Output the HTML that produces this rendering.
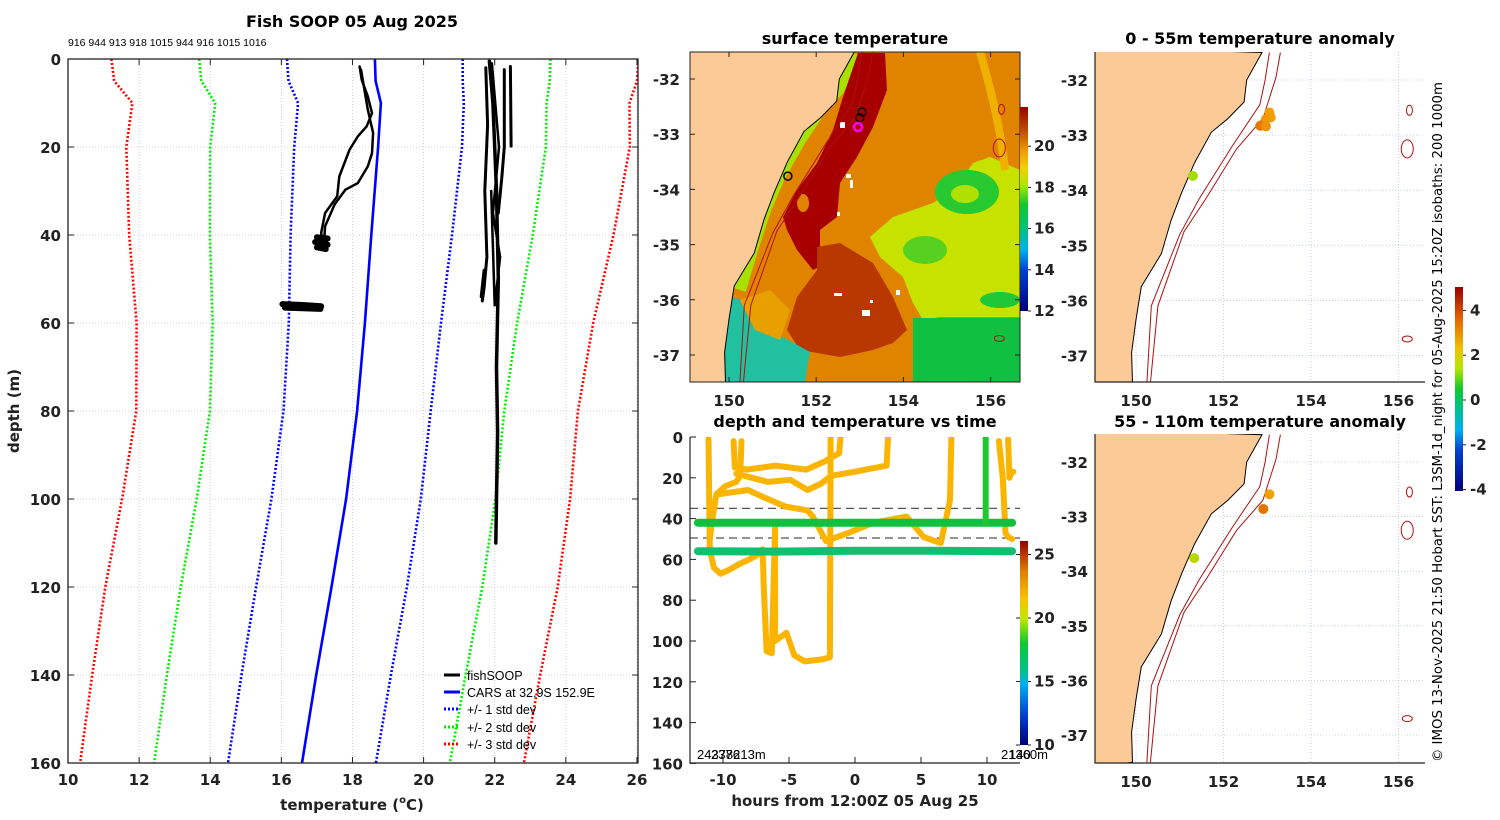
<!DOCTYPE html>
<html><head><meta charset="utf-8"><style>
body{margin:0;background:#fff;}
svg{display:block;font-family:"DejaVu Sans","Liberation Sans",sans-serif;}
.tk{font-weight:bold;font-size:15px;fill:#222;}
.ti{font-weight:bold;font-size:16px;fill:#000;}
</style></head><body>
<svg id="fig" width="1500" height="820" viewBox="0 0 1500 820" xmlns="http://www.w3.org/2000/svg">
<defs>
<linearGradient id="gSST" x1="0" y1="1" x2="0" y2="0">
<stop offset="0" stop-color="#00007a"/><stop offset="0.2" stop-color="#0040d0"/><stop offset="0.3" stop-color="#00b0f0"/><stop offset="0.4" stop-color="#00c080"/><stop offset="0.52" stop-color="#10c830"/><stop offset="0.62" stop-color="#b0e800"/><stop offset="0.7" stop-color="#f0d000"/><stop offset="0.78" stop-color="#f0a000"/><stop offset="0.88" stop-color="#c05000"/><stop offset="1" stop-color="#9a0000"/></linearGradient>
<linearGradient id="gTime" x1="0" y1="1" x2="0" y2="0">
<stop offset="0" stop-color="#00007a"/><stop offset="0.15" stop-color="#0040d0"/><stop offset="0.3" stop-color="#00b0f0"/><stop offset="0.36" stop-color="#00c090"/><stop offset="0.5" stop-color="#10c830"/><stop offset="0.62" stop-color="#c0e800"/><stop offset="0.72" stop-color="#fbc000"/><stop offset="0.85" stop-color="#e08000"/><stop offset="1" stop-color="#9a0000"/></linearGradient>
<linearGradient id="gAnom" x1="0" y1="1" x2="0" y2="0">
<stop offset="0" stop-color="#00007a"/><stop offset="0.2" stop-color="#0040d0"/><stop offset="0.3" stop-color="#00b0f0"/><stop offset="0.4" stop-color="#00c090"/><stop offset="0.5" stop-color="#10c830"/><stop offset="0.6" stop-color="#b0e800"/><stop offset="0.7" stop-color="#f0c000"/><stop offset="0.85" stop-color="#e06000"/><stop offset="1" stop-color="#9a0000"/></linearGradient>
<clipPath id="cSST"><rect x="690" y="52" width="330" height="330"/></clipPath>
<clipPath id="cA1"><rect x="1095" y="52" width="330" height="330"/></clipPath>
<clipPath id="cA2"><rect x="1095" y="434" width="330" height="329"/></clipPath>
<clipPath id="cLeft"><rect x="68" y="59" width="570" height="704"/></clipPath>
<clipPath id="cTime"><rect x="690" y="437" width="330" height="326"/></clipPath>
</defs>

<text class="ti" x="352" y="27" text-anchor="middle">Fish SOOP 05 Aug 2025</text>
<text x="68" y="46" font-size="10.5" font-family="Liberation Sans, sans-serif">916 944 913 918 1015 944 916 1015 1016</text>
<g id="leftGrid"></g>
<g id="leftSeries" clip-path="url(#cLeft)"></g>
<rect x="68" y="59" width="570" height="704" fill="none" stroke="#222" stroke-width="1.3"/>
<g id="leftTicks"></g>
<text class="tk" transform="translate(19,411) rotate(-90)" text-anchor="middle" font-size="16">depth (m)</text>
<text class="tk" x="352" y="810" text-anchor="middle" font-size="16">temperature (<tspan font-size="10" dy="-7">o</tspan><tspan dy="7">C)</tspan></text>
<g font-family="Liberation Sans, sans-serif" font-size="12.5">
<line x1="444" y1="675" x2="460" y2="675" stroke="#000" stroke-width="3"/>
<text x="467" y="680">fishSOOP</text>
<line x1="444" y1="692" x2="460" y2="692" stroke="#0000ff" stroke-width="3"/>
<text x="467" y="697">CARS at 32.9S 152.9E</text>
<line x1="444" y1="709" x2="460" y2="709" stroke="#0000ff" stroke-width="3" stroke-dasharray="2,2"/>
<text x="467" y="714">+/- 1 std dev</text>
<line x1="444" y1="727" x2="460" y2="727" stroke="#00ee00" stroke-width="3" stroke-dasharray="2,2"/>
<text x="467" y="732">+/- 2 std dev</text>
<line x1="444" y1="744" x2="460" y2="744" stroke="#ff0000" stroke-width="3" stroke-dasharray="2,2"/>
<text x="467" y="749">+/- 3 std dev</text>
</g>

<text class="ti" x="855" y="44" text-anchor="middle">surface temperature</text>
<g clip-path="url(#cSST)">
<rect x="690" y="52" width="330" height="330" fill="#e08400"/>
<polygon points="870,237 893,217 933,203 957,187 973,163 990,157 1020,170 1020,317 940,317 923,320 913,303 903,277 880,257" fill="#c8e200"/>
<ellipse cx="967" cy="192" rx="32" ry="22" fill="#28c830"/>
<ellipse cx="965" cy="194" rx="14" ry="9" fill="#b0e000"/>
<ellipse cx="925" cy="250" rx="22" ry="14" fill="#58d020"/>
<rect x="913" y="318" width="107" height="64" fill="#10c040"/>
<ellipse cx="1000" cy="300" rx="20" ry="8" fill="#20c838"/>
<path d="M980,52 Q1000,120 1005,170" stroke="#f0b000" stroke-width="8" fill="none"/>
<polyline points="858,55 838,90 820,110 800,140 780,175 765,210 752,250 740,290" fill="none" stroke="#a8e000" stroke-width="12"/>
<polygon points="858,53 885,53 887,90 873,127 857,157 840,183 837,217 820,230 820,247 827,263 813,270 797,250 787,230 783,217 797,190 817,163 833,130 843,97" fill="#a80000"/>
<polygon points="817,247 840,243 873,263 893,297 907,330 893,343 873,350 840,357 800,350 787,330 797,297 817,270" fill="#b83800"/>
<ellipse cx="803" cy="203" rx="6" ry="9" fill="#e08400"/>
<polygon points="690,290 745,300 770,330 810,352 805,382 690,382" fill="#20c0a0"/>
<polygon points="740,300 770,290 790,310 780,340 755,330" fill="#e8a000"/>
<g fill="#fff">
<rect x="840" y="122" width="5" height="6"/><rect x="846" y="174" width="5" height="4"/><rect x="850" y="180" width="3" height="8"/><rect x="837" y="212" width="3" height="4"/><rect x="862" y="310" width="8" height="6"/><rect x="834" y="293" width="8" height="3"/><rect x="896" y="290" width="4" height="5"/><rect x="870" y="300" width="3" height="3"/></g>
<g id="sstLayer"></g>
</g>
<rect x="690" y="52" width="330" height="330" fill="none" stroke="#222" stroke-width="1"/>
<rect x="1020" y="107" width="8" height="204" fill="url(#gSST)"/>

<text class="ti" x="855" y="427" text-anchor="middle">depth and temperature vs time</text>
<g id="timeSeries" clip-path="url(#cTime)"></g>
<path d="M690,437 V763 H1020" fill="none" stroke="#222" stroke-width="1.2"/>
<text x="697" y="759" font-size="13" font-family="Liberation Sans, sans-serif">24378213m</text>
<text x="711" y="759" font-size="13" font-family="Liberation Sans, sans-serif">2376</text>
<text x="1001" y="759" font-size="13" font-family="Liberation Sans, sans-serif">21360m</text>
<text x="1009" y="759" font-size="13" font-family="Liberation Sans, sans-serif">140</text>
<rect x="1020" y="541" width="8" height="204" fill="url(#gTime)"/>
<text class="tk" x="855" y="806" text-anchor="middle" font-size="16">hours from 12:00Z 05 Aug 25</text>

<text class="ti" x="1260" y="44" text-anchor="middle">0 - 55m temperature anomaly</text>
<text class="ti" x="1260" y="427" text-anchor="middle">55 - 110m temperature anomaly</text>
<g id="anom1" clip-path="url(#cA1)"></g>
<g id="anom2" clip-path="url(#cA2)"></g>
<path d="M1095,52 V382 H1425" fill="none" stroke="#222" stroke-width="1.2"/>
<path d="M1095,434 V763 H1425" fill="none" stroke="#222" stroke-width="1.2"/>
<rect x="1455" y="287" width="8" height="204" fill="url(#gAnom)"/>
<text transform="translate(1442,762) rotate(-90)" font-size="13" font-family="DejaVu Sans, sans-serif" textLength="680" lengthAdjust="spacingAndGlyphs">© IMOS 13-Nov-2025 21:50 Hobart SST: L3SM-1d_night for 05-Aug-2025 15:20Z isobaths: 200  1000m</text>
<g id="ticksAll"></g>
</svg>
<script>
const depthsC = [0,5,10,20,40,60,80,100,120,140,160];
const carsMean = [18.63,18.65,18.8,18.72,18.53,18.35,18.13,17.82,17.41,16.98,16.58];
const carsStd = [2.47,2.45,2.33,2.36,2.27,2.14,2.07,2.1,2.12,2.1,2.08];
const fish1T = [18.2,18.26,18.43,18.55,18.4,18.15,17.92,17.63,17.57,17.23,17.12,17.15];
const fish1D = [1.7,4.7,8.5,12.3,15.3,17.6,20.6,26.7,31.2,35,39.5,41.8];
const fish2T = [18.24,18.43,18.58,18.55,18.43,18.15,17.8,17.5,17.23,17.2];
const fish2D = [2.4,11.5,16.8,21.4,24.4,28.2,29.7,33,38,41.8];
const fish3T = [17.0,17.3,16.95,17.3,17.0,17.25,17.05];
const fish3D = [40.5,40.8,41.6,42.2,42.8,43.2,41.5];
const fish4T = [16.03,16.6,17.12,16.1,17.1,16.2];
const fish4D = [55.7,55.9,56.2,56.5,56.8,56.3];
const fish5T = [21.85,21.95,22.0,22.05,22.1,22.05,22.08,22.05,22.03];
const fish5D = [0.5,10,20,30,50,70,85,100,110];
const fish6T = [21.75,21.8,21.72,21.78,21.7,21.65,21.7,21.62];
const fish6D = [2,15,30,45,52,55,48,54];
const fish7T = [22.27,22.27,22.2,22.1];
const fish7D = [2.4,20,27,35];
const fish8T = [22.44,22.46];
const fish8D = [1.7,19.8];
const fish9T = [21.92,22.12,21.95,22.15,22.0,21.9];
const fish9D = [1,20,35,45,56,30];
const tempTicks = [10,12,14,16,18,20,22,24,26];
const depthTicks = [0,20,40,60,80,100,120,140,160];
const trA_h = [-11.1,-11.0,-10.7,-10.2,-9.5,-8.7,-8.0,-7.2,-6.9];
const trA_d = [1,55,64,67,65,62,60,57,56];
const trB_h = [-11.0,-10.8,-10.5,-9.8,-9.0,-8.7,-8.6];
const trB_d = [50,40,28,24,22,19,2];
const trC_h = [-9.2,-9.1,-8.2,-6,-3.7,-2.3,-1.8,-1.2,-1.1];
const trC_d = [2,15,16,14,16,12,10,8,0];
const trD_h = [-9.0,-6.6,-4.9,-3.6,-2.6,-1.8,0,2.4,2.5];
const trD_d = [18,22,21,26,23,19,17,14,0];
const trE_h = [-10.3,-8.1,-7.1,-5.3,-3.6,-3.2,-2.2,-0.5,1.4,3.9,5.2,6.5,7.2,7.3];
const trE_d = [28,26,29,34,36,39,51,47,42,39,49,52,31,0];
const trF_h = [-7.0,-6.9,-6.7,-6.3,-6.05,-6.05,-5.2,-4.6,-3.8,-2.5,-1.9,-1.85];
const trF_d = [55,75,105,106,44,100,96,107,110,109,108,0];
const trG_h = [10.9,11.2,11.4,11.6,11.9];
const trG_d = [2,20,47,49,50];
const trH_h = [11.6,11.7,11.9,12.0];
const trH_d = [1,20,17,17];
const band1_h = [-11.9,-6,0,6,11.9];
const band1_d = [42,42,42,42,42];
const band2_h = [-11.9,-6,0,6,11.9];
const band2_d = [56,56.2,55.8,55.8,56];
const vert_h = [9.9,9.9];
const vert_d = [0,42];
const dashDepths = [35,49.5];
const hourTicks = [-10,-5,0,5,10];
const timeDepthTicks = [0,20,40,60,80,100,120,140,160];
const timeCbTicks = [10,15,20,25];
const coastLon = [152.88,152.53,152.47,152.1,151.72,151.34,151.04,150.8,150.58,150.12,150.0,149.9,149.92];
const coastLat = [-31.5,-32.0,-32.4,-32.7,-32.95,-33.5,-34.05,-34.55,-35.15,-35.75,-36.35,-36.95,-37.5];
const iso200Lon = [153.05,152.95,152.83,152.2,151.45,151.0,150.35,150.25];
const iso200Lat = [-31.5,-32.0,-32.45,-33.2,-34.15,-34.8,-36.1,-37.5];
const iso1000Lon = [153.3,153.2,152.9,152.3,151.6,151.1,150.5,150.33];
const iso1000Lat = [-31.5,-31.95,-32.7,-33.25,-34.15,-34.75,-36.1,-37.5];
const a1Lon = [151.3,153.05,153.08,152.97,152.84,152.97];
const a1Lat = [-33.74,-32.59,-32.68,-32.71,-32.83,-32.84];
const a1Val = [1.3,3.0,3.0,3.1,3.6,3.2];
const a2Lon = [151.33,153.05,152.91];
const a2Lat = [-33.76,-32.59,-32.86];
const a2Val = [1.5,3.0,3.7];
const lonTicks = [150,152,154,156];
const latTicks = [-32,-33,-34,-35,-36,-37];
const sstCbTicks = [12,14,16,18,20];
const anomCbTicks = [-4,-2,0,2,4];

const NS='http://www.w3.org/2000/svg';
function mk(parent, tag, attrs){const e=document.createElementNS(NS,tag);for(const k in attrs)e.setAttribute(k,attrs[k]);parent.appendChild(e);return e;}
const $=id=>document.getElementById(id);
const PX=t=>68+(t-10)*35.56, PY=d=>59+d*4.4;
const TX=h=>855+h*13.2, TY=d=>437+d*2.04;
const SX=lon=>729+(lon-150)*43.6, SY=lat=>79+(-32-lat)*55.2;
const AX=lon=>1136+(lon-150)*43.75, AY1=lat=>80+(-32-lat)*55.1, AY2=lat=>462+(-32-lat)*54.6;
function pts(xs,ys,fx,fy){return xs.map((v,i)=>fx(v).toFixed(1)+','+fy(ys[i]).toFixed(1)).join(' ');}

const lg=$('leftGrid');
tempTicks.forEach(t=>{const l=mk(lg,'line',{x1:PX(t),x2:PX(t),y1:59,y2:763,stroke:'#b8c4e8','stroke-width':0.8,'stroke-dasharray':'1,2'});

});
depthTicks.forEach(d=>{const l=mk(lg,'line',{x1:68,x2:638,y1:PY(d),y2:PY(d),stroke:'#c8c0c0','stroke-width':0.8,'stroke-dasharray':'1,2'});

});
const ls=$('leftSeries');
[[3,'#ff0000'],[2,'#00ee00'],[1,'#0000ff']].forEach(([k,c])=>{[-1,1].forEach(s=>{
 const p=mk(ls,'polyline',{points:pts(depthsC.map((d,i)=>carsMean[i]+s*k*carsStd[i]),depthsC,PX,PY),fill:'none',stroke:c,'stroke-width':2.6,'stroke-dasharray':'2,2'});
 
 });});
const cm=mk(ls,'polyline',{points:pts(carsMean,depthsC,PX,PY),fill:'none',stroke:'#0000ff','stroke-width':2.6});


[[fish1T,fish1D,2.5],[fish2T,fish2D,2.5],[fish3T,fish3D,6],[fish4T,fish4D,6],[fish5T,fish5D,3.5],[fish6T,fish6D,3],[fish7T,fish7D,3],[fish8T,fish8D,3],[fish9T,fish9D,2.5]].forEach((f,i)=>{
 const p=mk(ls,'polyline',{points:pts(f[0],f[1],PX,PY),fill:'none',stroke:'#000','stroke-width':f[2],'stroke-linejoin':'round','stroke-linecap':'round'});
 
 });
const lt=$('leftTicks');
tempTicks.forEach(t=>{const x=PX(t);
 const a=mk(lt,'path',{d:`M${x},763v-6M${x},59v6`,stroke:'#222','stroke-width':1});
 
 
 const tx=mk(lt,'text',{x:x,y:785,'text-anchor':'middle',class:'tk'});tx.textContent=t;
 
 });
depthTicks.forEach(d=>{const y=PY(d);
 const a=mk(lt,'path',{d:`M68,${y}h6M638,${y}h-6`,stroke:'#222','stroke-width':1});
 
 
 const tx=mk(lt,'text',{x:61,y:y+6,'text-anchor':'end',class:'tk'});tx.textContent=d;
 
 });

const ts=$('timeSeries');
dashDepths.forEach(d=>{const l=mk(ts,'line',{x1:690,x2:1020,y1:TY(d),y2:TY(d),stroke:'#555','stroke-width':1.2,'stroke-dasharray':'8,5'});
 
 });
[[trA_h,trA_d],[trB_h,trB_d],[trC_h,trC_d],[trD_h,trD_d],[trE_h,trE_d],[trF_h,trF_d],[trG_h,trG_d],[trH_h,trH_d]].forEach((t,i)=>{
 const p=mk(ts,'polyline',{points:pts(t[0],t[1],TX,TY),fill:'none',stroke:'#fbb400','stroke-width':6,'stroke-linejoin':'round','stroke-linecap':'round'});
 
 });
const b1=mk(ts,'polyline',{points:pts(band1_h,band1_d,TX,TY),fill:'none',stroke:'#12c040','stroke-width':8,'stroke-linecap':'round'});


const b2=mk(ts,'polyline',{points:pts(band2_h,band2_d,TX,TY),fill:'none',stroke:'#10c070','stroke-width':8,'stroke-linecap':'round'});


const vg=mk(ts,'polyline',{points:pts(vert_h,vert_d,TX,TY),fill:'none',stroke:'#20c830','stroke-width':6,'stroke-linecap':'round'});



const T=$('ticksAll');
function tick(d,name){const p=mk(T,'path',{d:d,stroke:'#222','stroke-width':1,fill:'none'});
 
 }
function lab(x,y,txt,anchor,name){const t=mk(T,'text',{x:x,y:y,'text-anchor':anchor,class:'tk'});t.textContent=txt;
 
 }
hourTicks.forEach(h=>{tick(`M${TX(h)},763v-6`,'hour-tick-'+h);lab(TX(h),785,h,'middle','hour-label-'+h);});
timeDepthTicks.forEach(d=>{tick(`M690,${TY(d)}h6`,'time-depth-tick-'+d);lab(683,TY(d)+6,d,'end','time-depth-label-'+d);});
const CBT=v=>745-(v-10)*12.7;
timeCbTicks.forEach(v=>{tick(`M1020,${CBT(v)}h-4M1028,${CBT(v)}h3`,'time-cb-tick-'+v);lab(1034,CBT(v)+5,v,'start','time-cb-label-'+v);});
const CBS=v=>311-(v-12)*20.6;
sstCbTicks.forEach(v=>{tick(`M1028,${CBS(v)}h3`,'sst-cb-tick-'+v);lab(1034,CBS(v)+5,v,'start','sst-cb-label-'+v);});
const CBA=v=>400-v*22.4;
anomCbTicks.forEach(v=>{tick(`M1463,${CBA(v)}h3`,'anom-cb-tick-'+v);lab(1470,CBA(v)+5,v,'start','anom-cb-label-'+v);});
lonTicks.forEach(l=>{tick(`M${SX(l)},382v-5M${SX(l)},52v5`,'sst-lon-tick-'+l);lab(SX(l),406,l,'middle','sst-lon-label-'+l);
 lab(AX(l),406,l,'middle','anom1-lon-label-'+l);lab(AX(l),787,l,'middle','anom2-lon-label-'+l);});
latTicks.forEach(l=>{tick(`M690,${SY(l)}h5M1020,${SY(l)}h-5`,'sst-lat-tick-'+l);lab(680,SY(l)+6,l,'end','sst-lat-label-'+l);
 lab(1088,AY1(l)+6,l,'end','anom1-lat-label-'+l);lab(1088,AY2(l)+6,l,'end','anom2-lat-label-'+l);});

const landLon=[149.0].concat(coastLon,[149.0]), landLat=[-31.4].concat(coastLat,[-37.6]);
function drawMap(g,fx,fy,top,bot,grid,tag){
 if(grid){lonTicks.forEach(l=>{const e=mk(g,'line',{x1:fx(l),x2:fx(l),y1:top,y2:bot,stroke:'#b8c4e8','stroke-width':0.8,'stroke-dasharray':'1,2'});
  
  });
  latTicks.forEach(l=>{const e=mk(g,'line',{x1:1095,x2:1425,y1:fy(l),y2:fy(l),stroke:'#b8c4e8','stroke-width':0.8,'stroke-dasharray':'1,2'});
  
  });}
 const land=mk(g,'polygon',{points:pts(landLon,landLat,fx,fy),fill:'#fcca96',stroke:'#000','stroke-width':1});
 
 
 const i2=mk(g,'polyline',{points:pts(iso200Lon,iso200Lat,fx,fy),fill:'none',stroke:'#b01010','stroke-width':1});
 
 
 const i1=mk(g,'polyline',{points:pts(iso1000Lon,iso1000Lat,fx,fy),fill:'none',stroke:'#b01010','stroke-width':1});
 
 
 [[156.25,-32.55,3,5],[156.2,-33.25,6,9],[156.2,-36.7,5,3]].forEach((s,i)=>{const e=mk(g,'ellipse',{cx:fx(s[0]),cy:fy(s[1]),rx:s[2],ry:s[3],fill:'none',stroke:'#b01010','stroke-width':1});
  
  });
}
const sg=$('sstLayer');
drawMap(sg,SX,SY,52,382,false,'sst');
const stopsV=[-4,-2,-1,0,1,2,3,4,5], stopsC=['#00007a','#0070e0','#00c090','#10c830','#80e000','#f0d000','#f0a000','#e06000','#9a0000'];
function hex(c){return [1,3,5].map(i=>parseInt(c.substr(i,2),16));}
function acol(v){v=Math.max(-4,Math.min(5,v));for(let i=0;i<stopsV.length-1;i++){if(v<=stopsV[i+1]){const f=(v-stopsV[i])/(stopsV[i+1]-stopsV[i]);const a=hex(stopsC[i]),b=hex(stopsC[i+1]);return 'rgb('+a.map((x,j)=>Math.round(x+(b[j]-x)*f)).join(',')+')';}}return stopsC[8];}
const sc=[[152.96,-32.87,'#ff00ff',2.5],[153.05,-32.6,'#000',1.2],[153.0,-32.7,'#000',1.2],[151.35,-33.76,'#000',1.5]];
sc.forEach((c,i)=>{const e=mk(sg,'circle',{cx:SX(c[0]),cy:SY(c[1]),r:4,fill:'none',stroke:c[2],'stroke-width':c[3]});
 
 });
const g1=$('anom1'), g2=$('anom2');
drawMap(g1,AX,AY1,52,382,true,'anom1');
drawMap(g2,AX,AY2,434,763,true,'anom2');
a1Lon.forEach((l,i)=>{const e=mk(g1,'circle',{cx:AX(l),cy:AY1(a1Lat[i]),r:5,fill:acol(a1Val[i])});
 
 });
a2Lon.forEach((l,i)=>{const e=mk(g2,'circle',{cx:AX(l),cy:AY2(a2Lat[i]),r:5,fill:acol(a2Val[i])});
 
 });
</script>
</body></html>
